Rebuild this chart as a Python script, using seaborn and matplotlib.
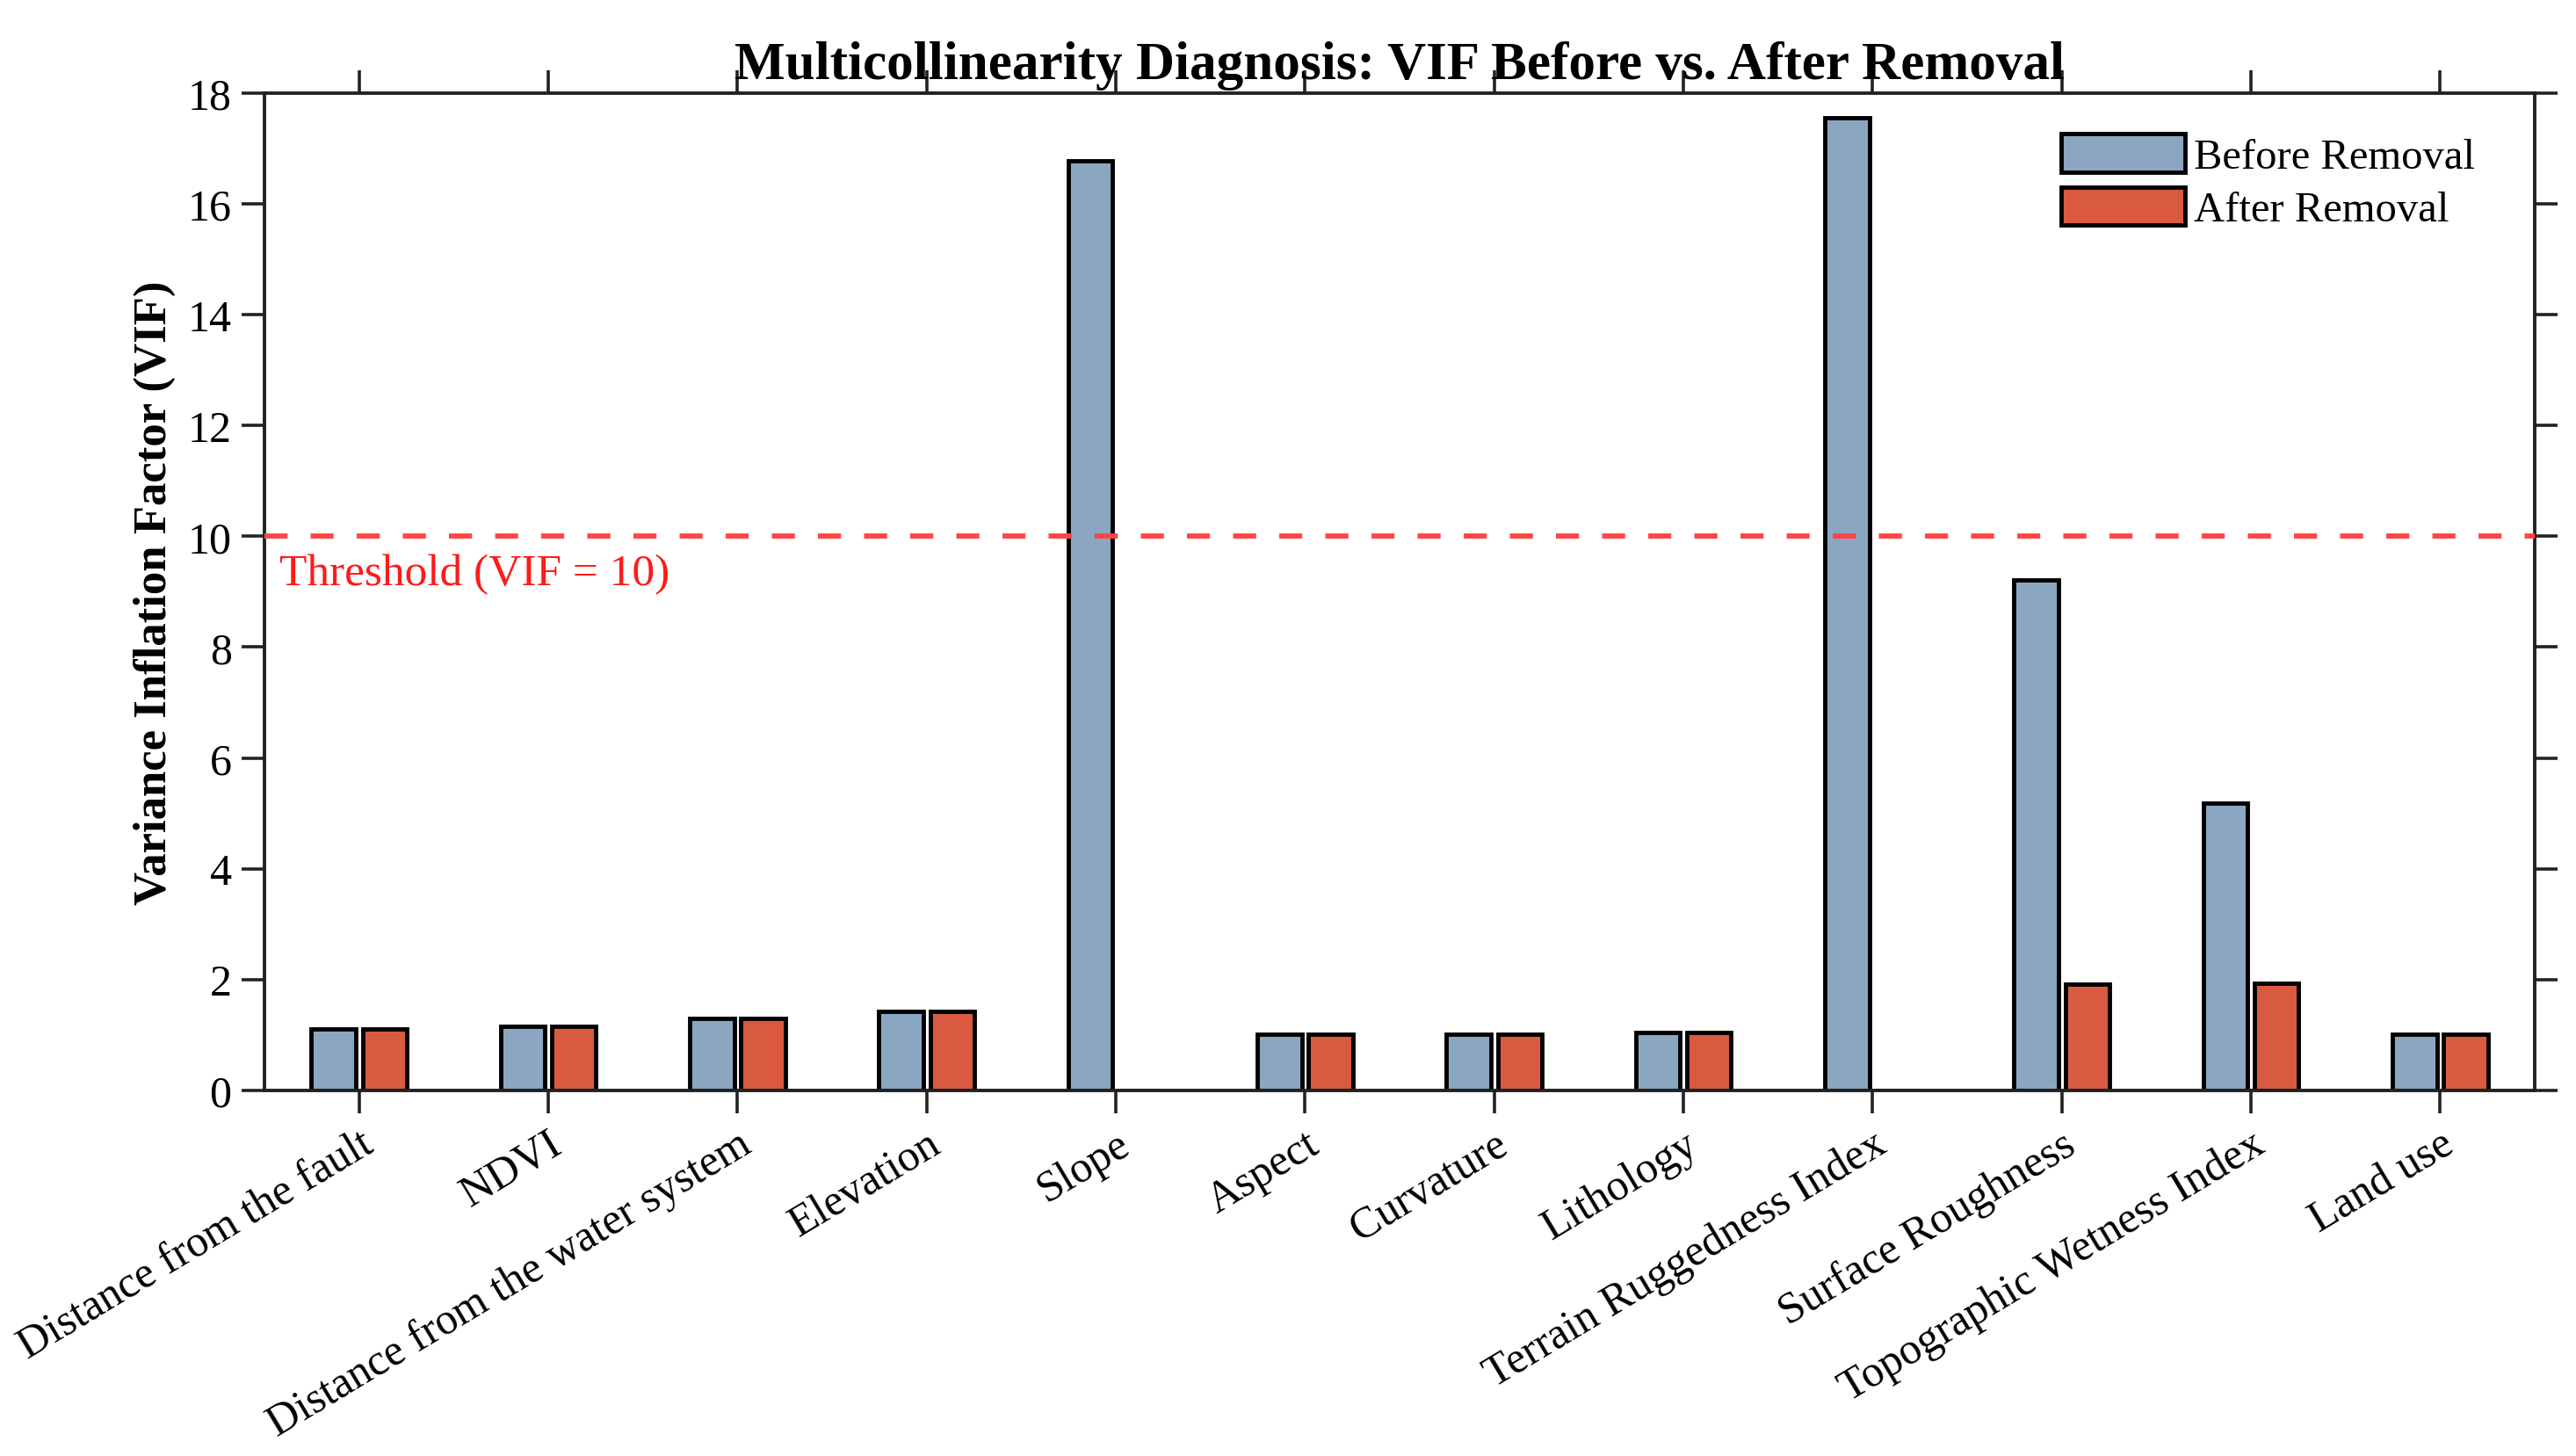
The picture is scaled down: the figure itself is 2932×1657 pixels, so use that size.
import numpy as np
import pandas as pd
import matplotlib
matplotlib.use("Agg")
import matplotlib.pyplot as plt
import seaborn as sns

# VIF values
factors = ["Distance from the fault", "NDVI", "Distance from the water system",
           "Elevation", "Slope", "Aspect", "Curvature", "Lithology",
           "Terrain Ruggedness Index", "Surface Roughness",
           "Topographic Wetness Index", "Land use"]
vifBefore = [1.10, 1.15, 1.30, 1.43, 16.78, 1.01, 1.01, 1.04, 17.55, 9.21, 5.18, 1.01]
vifAfter = [1.10, 1.15, 1.30, 1.43, 0.0, 1.01, 1.01, 1.04, 0.0, 1.91, 1.94, 1.01]
stages = ["Before Removal", "After Removal"]
stageColors = ["#8ba6c1", "#d95a40"]
threshold = 10

df = pd.DataFrame({
    "factor": factors * 2,
    "vif": vifBefore + vifAfter,
    "stage": [stages[0]] * len(factors) + [stages[1]] * len(factors),
})

sns.set_theme(style="white")
plt.rcParams['font.family'] = ['Liberation Serif', 'DejaVu Serif']
plt.rcParams['axes.linewidth'] = 2.8
plt.rcParams['text.color'] = 'black'
plt.rcParams['axes.labelcolor'] = 'black'
plt.rcParams['xtick.color'] = 'black'
plt.rcParams['ytick.color'] = 'black'

fig, ax = plt.subplots(figsize=(29.32, 16.58), dpi=100)
fig.subplots_adjust(left=0.1027, right=0.984, top=0.9355, bottom=0.251)

sns.barplot(data=df, x="factor", y="vif", hue="stage", order=factors, hue_order=stages,
            palette=stageColors, width=0.54, gap=0.13, edgecolor="black", linewidth=3.5,
            saturation=1, ax=ax)

ax.axhline(threshold, color="#ff4545", linestyle=(0, (4.5, 4.5)), linewidth=4.2, zorder=3)
ax.text(-0.42, threshold - 0.3, "Threshold (VIF = 10)", color="#ff1a1a",
        fontsize=37, ha="left", va="top")

ax.set_ylim(0, 18)
ax.set_xlim(-0.5, len(factors) - 0.5)
ax.set_yticks(np.arange(0, 19, 2))
ax.set_xlabel("")
ax.set_ylabel("Variance Inflation Factor (VIF)", fontsize=38, fontweight="bold", labelpad=10)
ax.set_title("Multicollinearity Diagnosis: VIF Before vs. After Removal",
             fontsize=44, fontweight="bold", pad=12)

for side in ["top", "right", "left", "bottom"]:
    ax.spines[side].set_visible(True)
    ax.spines[side].set_color("#222222")
ax.tick_params(axis="both", direction="out", length=19, width=2.6, color="#222222",
               labelsize=36, top=True, right=True, left=True, bottom=True,
               labeltop=False, labelright=False)
ax.tick_params(axis="x", pad=8)
ax.tick_params(axis="y", pad=8)
ax.set_xticks(range(len(factors)))
ax.set_xticklabels(factors, rotation=31, ha="right", rotation_mode="anchor")

leg = ax.legend(loc="upper right", bbox_to_anchor=(0.985, 0.985), frameon=False,
                fontsize=35, handlelength=2.9, handleheight=1.0, handletextpad=0.2,
                labelspacing=0.25, borderaxespad=0.2)
for h in leg.legend_handles:
    h.set_edgecolor("black")
    h.set_linewidth(3.5)

fig.savefig("out.png", dpi=100)
